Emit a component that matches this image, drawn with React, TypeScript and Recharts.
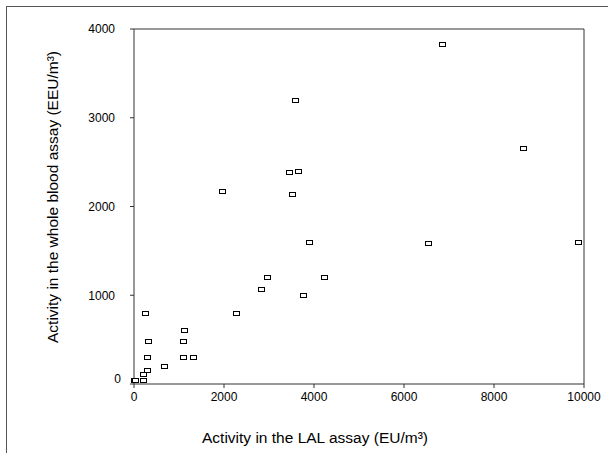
import React from "react";
import {
  Label,
  ReferenceLine,
  Scatter,
  ScatterChart,
  XAxis,
  YAxis
} from "recharts";

// activity in the LAL assay (EU/m3)
const lalValues = [
  6840, 8640, 9860, 6530, 3570, 3450, 3640, 1950, 3520, 3880, 2960, 4220, 2830, 3750,
  2260, 255, 1120, 320, 1080, 290, 1080, 1300, 660, 290, 195, 195, 0, 20
];

// activity in the whole blood assay (EEU/m3)
const wholeBloodValues = [
  3830, 2660, 1600, 1590, 3200, 2390, 2400, 2180, 2140, 1600, 1210, 1210, 1070, 1000,
  800, 805, 605, 480, 480, 305, 305, 305, 200, 155, 115, 40, 50, 45
];

const xTicks = [0, 2000, 4000, 6000, 8000, 10000];
const yTicks = [0, 1000, 2000, 3000, 4000];

const points = lalValues.map((x, i) => ({ x, y: wholeBloodValues[i] }));

const FONT = "'Liberation Sans', Arial, sans-serif";
const AXIS = "#333";

function SquareMarker(props: any) {
  const { cx, cy } = props;
  if (cx == null || cy == null) return null;
  return (
    <rect
      x={Math.round(cx) - 3 + 0.5}
      y={Math.round(cy) - 2 + 0.5}
      width={6}
      height={4}
      fill="#fff"
      stroke="#000"
      strokeWidth={1}
    />
  );
}

function YTick(props: any) {
  const { x, y, payload } = props;
  // the zero label sits a little higher and further right in the original
  const isZero = payload.value === 0;
  return (
    <text
      x={x + (isZero ? 6 : 0)}
      y={y + (isZero ? -5 : 0)}
      dy="0.355em"
      textAnchor="end"
      fontSize={12}
      fill="#000"
      fontFamily={FONT}
    >
      {payload.value}
    </text>
  );
}

export default function App() {
  return (
    <div
      style={{
        position: "fixed",
        left: 0,
        top: 0,
        width: 608,
        height: 453,
        overflow: "hidden",
        background: "#fff",
        fontFamily: FONT
      }}
    >
      <div
        style={{
          position: "absolute",
          left: 6,
          top: 6,
          width: 700,
          height: 600,
          border: "1px solid #555"
        }}
      />
      <div style={{ position: "absolute", left: 0, top: 0 }}>
        <ScatterChart
          width={608}
          height={453}
          margin={{ top: 29, right: 24, bottom: 0, left: 0 }}
        >
          <XAxis
            type="number"
            dataKey="x"
            domain={[0, 10000]}
            ticks={xTicks}
            tickSize={4}
            tickMargin={4}
            height={69}
            stroke={AXIS}
            tick={{ fontSize: 12, fill: "#000", fontFamily: FONT }}
            tickLine={{ stroke: AXIS }}
          >
            <Label
              content={(p: any) => {
                const vb = p.viewBox || { x: 134, y: 384 };
                return (
                  <text
                    x={vb.x + 181}
                    y={vb.y + 59}
                    textAnchor="middle"
                    fontSize={15.5}
                    fill="#000"
                    fontFamily={FONT}
                  >
                    Activity in the LAL assay (EU/m³)
                  </text>
                );
              }}
            />
          </XAxis>
          <YAxis
            type="number"
            dataKey="y"
            domain={[0, 4000]}
            ticks={yTicks}
            tickSize={4}
            tickMargin={15}
            width={134}
            stroke={AXIS}
            tick={<YTick />}
            tickLine={{ stroke: AXIS }}
          >
            <Label
              content={(p: any) => {
                const vb = p.viewBox || { x: 0, y: 29 };
                const cx = vb.x + 52;
                const cy = vb.y + 168;
                return (
                  <text
                    x={cx}
                    y={cy}
                    dy="0.355em"
                    textAnchor="middle"
                    fontSize={15.5}
                    fill="#000"
                    fontFamily={FONT}
                    transform={`rotate(-90, ${cx}, ${cy})`}
                  >
                    Activity in the whole blood assay (EEU/m³)
                  </text>
                );
              }}
            />
          </YAxis>
          <ReferenceLine y={4000} stroke={AXIS} />
          <ReferenceLine x={10000} stroke={AXIS} />
          <Scatter data={points} shape={SquareMarker} isAnimationActive={false} />
        </ScatterChart>
      </div>
    </div>
  );
}
